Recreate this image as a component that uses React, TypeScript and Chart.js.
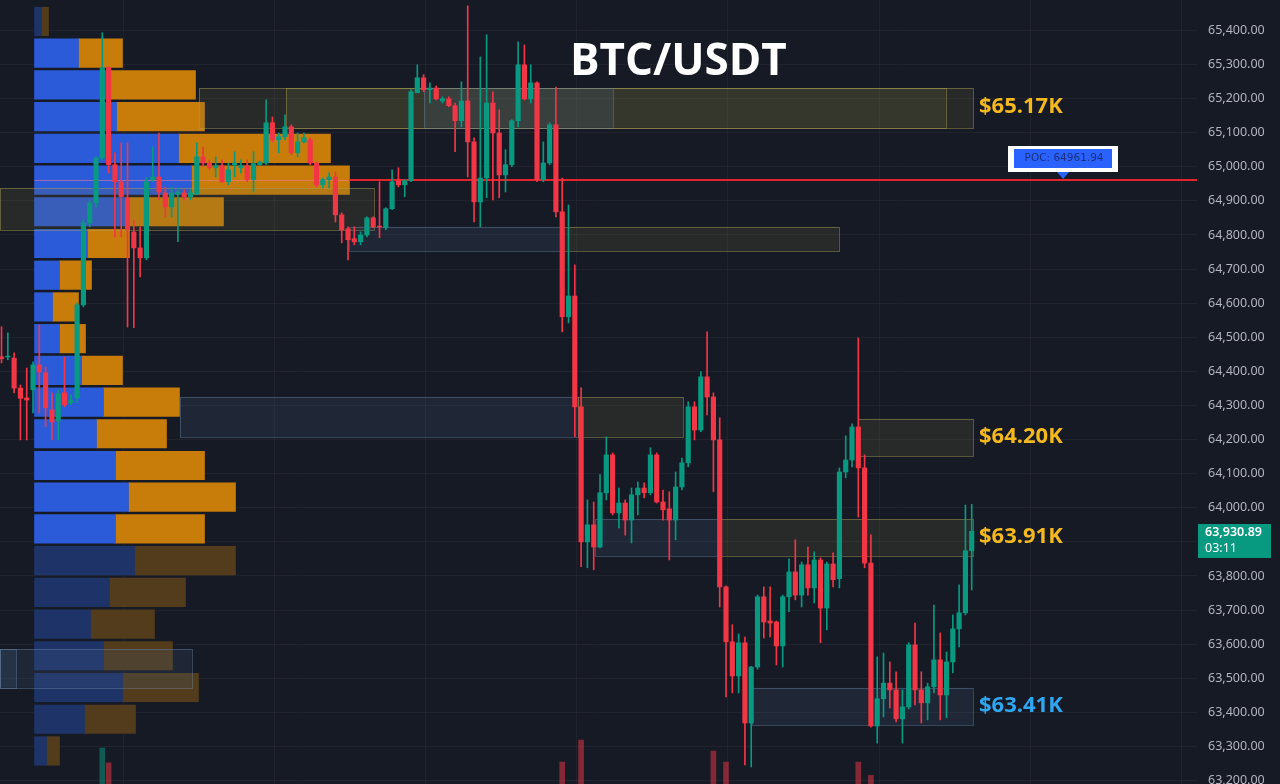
import React, { useEffect, useRef } from "react";
import { Chart, registerables } from "chart.js";

Chart.register(...registerables);

// ---------- candles (5m BTC/USDT) ----------
const opens = [64443,64442,64439,64351,64322,64346,64419,64396,64287,64255,
 64337,64308,64322,64595,64835,64894,65026,65290,65006,64956,
 64909,64809,64762,64733,64962,64970,64923,64882,64920,64923,
 64912,64920,65029,65011,64997,65003,64956,65006,64997,65003,
 64962,65006,65011,65129,65079,65088,65117,65041,65073,65079,
 65011,64947,64962,64970,64859,64818,64789,64780,64800,64850,
 64826,64821,64877,64959,64947,64959,65217,65261,65226,65231,
 65193,65199,65179,65135,65193,65073,64897,64967,65187,65099,
 64976,65006,65135,65299,65199,65246,64962,65011,65123,64868,
 64560,64621,64296,63900,63950,63885,64044,64155,63985,64014,
 63964,64038,64058,64044,64155,64017,63997,63964,64061,64132,
 64296,64228,64384,64325,64199,63768,63607,63507,63604,63369,
 63533,63739,63668,63665,63595,63739,63812,63744,63833,63765,
 63847,63706,63835,63792,64105,64140,64237,64117,63838,63360,
 63440,63486,63466,63381,63416,63598,63466,63428,63475,63554,
 63451,63548,63645,63692,63874];
const highs = [64531,64513,64454,64360,64410,64428,64536,64413,64337,64346,
 64442,64331,64601,64844,64903,65029,65393,65293,65041,65070,
 65070,64844,64824,64968,65058,65099,64941,64941,64938,64932,
 64932,65070,65058,65020,65029,65020,65011,65044,65020,65020,
 65044,65017,65196,65146,65099,65152,65123,65099,65099,65085,
 65014,64967,64982,64985,64865,64824,64824,64809,64853,64853,
 64956,64880,64991,64997,64962,65226,65299,65270,65246,65237,
 65205,65205,65187,65249,65472,65085,65322,65387,65220,65167,
 65050,65138,65366,65357,65299,65249,65073,65129,65234,64967,
 64888,64712,64352,64023,64017,64097,64208,64161,64058,64023,
 64058,64076,64073,64176,64161,64052,64047,64105,64146,64311,
 64311,64399,64516,64337,64264,63771,63657,63630,63621,63535,
 63744,63768,63768,63668,63744,63850,63906,63841,63885,63871,
 63853,63841,63868,64117,64211,64246,64498,64155,63921,63563,
 63574,63548,63519,63466,63604,63662,63519,63486,63715,63633,
 63577,63686,63774,64008,64010];
const lows = [64425,64434,64337,64199,64199,64278,64278,64237,64199,64199,
 64296,64302,64308,64589,64824,64882,65020,64982,64794,64794,
 64530,64528,64677,64727,64956,64903,64853,64853,64780,64903,
 64903,64918,65000,64991,64970,64953,64947,64970,64982,64956,
 64926,65003,65006,65073,65041,65079,65035,65029,65070,65006,
 64941,64938,64938,64838,64777,64727,64771,64771,64794,64821,
 64792,64815,64874,64941,64912,64956,65217,65220,65187,65196,
 65187,65176,65044,65117,64970,64838,64824,64909,64903,64909,
 64926,65000,65117,65196,65187,64956,64956,65006,64853,64516,
 64542,64208,63827,63824,63818,63882,64023,63979,63941,63920,
 63897,63979,64029,64038,64014,63964,63847,63906,64052,64120,
 64199,64223,64272,64047,63709,63445,63457,63457,63246,63240,
 63527,63618,63621,63539,63533,63695,63730,63709,63744,63721,
 63604,63642,63768,63765,64088,64120,63973,63824,63357,63310,
 63387,63413,63372,63310,63410,63422,63369,63378,63457,63378,
 63384,63516,63592,63686,63759];
const closes = [64437,64445,64351,64321,64316,64419,64398,64293,64252,64334,
 64302,64316,64595,64835,64894,65026,65290,65006,64956,64912,
 64815,64762,64733,64956,64970,64926,64882,64923,64926,64912,
 64923,65029,65011,64997,65003,64956,64991,65011,65003,64962,
 65009,65014,65129,65079,65088,65117,65041,65073,65085,65011,
 64947,64962,64970,64859,64815,64786,64780,64800,64850,64824,
 64823,64877,64956,64947,64959,65220,65261,65226,65231,65199,
 65199,65179,65135,65193,65073,64897,64967,65187,65099,64976,
 65006,65135,65299,65199,65246,64962,65011,65123,64868,64560,
 64621,64296,63900,63950,63885,64044,64155,63985,64014,63964,
 64038,64058,64044,64155,64017,63994,63964,64061,64132,64296,
 64228,64384,64325,64199,63768,63607,63507,63604,63369,63533,
 63739,63665,63662,63595,63739,63812,63744,63833,63765,63847,
 63706,63835,63789,64105,64140,64237,64117,63838,63360,63440,
 63486,63466,63381,63416,63598,63466,63428,63475,63554,63451,
 63548,63645,63692,63874,63930.89];

// ---------- volume histogram (only the bars that reach into view) ----------
const volumeCandle = [16, 17, 89, 92, 113, 115, 136, 138];
const volumeValue = [46, 27, 28, 56, 42, 28, 28, 11];

// ---------- volume profile ----------
const profilePrices = [65426,65333,65240,65147,65054,64961,64868,64775,64682,64589,
 64496,64403,64310,64217,64124,64031,63938,63845,63752,63659,63566,63473,63380,63287];
const profileBuy = [7,44,76,82,144,157,95,53,25,18,25,47,69,62,81,94,81,100,75,56,69,88,50,12];
const profileSell = [7,44,85,88,152,158,94,42,32,26,26,41,76,70,89,107,89,101,76,64,69,76,51,13];
const valueAreaHigh = 65380;
const valueAreaLow = 63890;
const pocPrice = 64961.94;

// ---------- zones ----------
const zoneStart = [31.35, 45.2, 67.1, -0.3, 55.2, 89.1, 28.3, 91.5, 136.0, 94.2, 114.0, 119.1, -0.3, -0.3];
const zoneEnd = [154.2, 149.9, 97.1, 59.1, 89.1, 132.9, 91.5, 108.2, 154.2, 114.0, 154.2, 154.2, 30.2, 2.3];
const zoneTop = [65231, 65231, 65231, 64938, 64824, 64824, 64325, 64325, 64261, 63967, 63967, 63472, 63586, 63586];
const zoneBottom = [65114, 65114, 65114, 64815, 64753, 64753, 64208, 64208, 64152, 63859, 63859, 63363, 63472, 63472];
const zoneKind = ["s", "s", "d", "s", "d", "s", "d", "s", "s", "d", "s", "d", "d", "d"];

const labelZone = [0, 8, 10, 11];
const labelText = ["$65.17K", "$64.20K", "$63.91K", "$63.41K"];
const labelColor = ["#f5b91e", "#f5b91e", "#f5b91e", "#2ea6f2"];

const priceTicks = [63200, 63300, 63400, 63500, 63600, 63700, 63800, 63900, 64000, 64100, 64200, 64300,
 64400, 64500, 64600, 64700, 64800, 64900, 65000, 65100, 65200, 65300, 65400, 65500];
const gridTimes = [19.3, 43.3, 67.3, 91.3, 115.3, 139.3, 163.3, 187.3];
const pocLabelTime = 168.5;
const countdown = "03:11";
const title = "BTC/USDT";

const priceMin = 63190;
const priceMax = 65489;
const timeMin = -0.24;
const timeMax = 189.76;

const BG = "#161a25";
const GRID = "rgba(255,255,255,0.045)";
const GREEN = "#089981";
const RED = "#f23645";

const fmt = (v: number) =>
  v.toLocaleString("en-US", { minimumFractionDigits: 2, maximumFractionDigits: 2 });

const overlayPlugin = {
  id: "overlay",
  beforeDraw(chart: any) {
    const { ctx, width, height } = chart;
    ctx.save();
    ctx.fillStyle = BG;
    ctx.fillRect(0, 0, width, height);
    ctx.restore();
  },
  beforeDatasetDraw(chart: any, args: any) {
    if (args.index !== 2) return;
    const { ctx, chartArea } = chart;
    const xs = chart.scales.x, ys = chart.scales.y, xp = chart.scales.xp;
    ctx.save();
    for (let z = 0; z < zoneStart.length; z++) {
      const x1 = xs.getPixelForValue(zoneStart[z]);
      const x2 = xs.getPixelForValue(zoneEnd[z]);
      const y1 = ys.getPixelForValue(zoneTop[z]);
      const y2 = ys.getPixelForValue(zoneBottom[z]);
      const supply = zoneKind[z] === "s";
      ctx.fillStyle = supply ? "rgba(110,108,60,0.2)" : "rgba(70,95,130,0.2)";
      ctx.fillRect(x1, y1, x2 - x1, y2 - y1);
      ctx.strokeStyle = supply ? "rgba(175,165,85,0.45)" : "rgba(110,140,170,0.4)";
      ctx.lineWidth = 1;
      ctx.strokeRect(Math.round(x1) + 0.5, Math.round(y1) + 0.5, Math.round(x2 - x1), Math.round(y2 - y1));
    }
    // POC line
    let maxK = 0;
    for (let k = 0; k < profilePrices.length; k++) {
      if (profileBuy[k] + profileSell[k] > profileBuy[maxK] + profileSell[maxK]) maxK = k;
    }
    const py = Math.round(ys.getPixelForValue(pocPrice));
    const px0 = xp.getPixelForValue(0);
    const px1 = xp.getPixelForValue(profileBuy[maxK] + profileSell[maxK]);
    ctx.strokeStyle = "rgba(255,120,150,0.55)";
    ctx.lineWidth = 1;
    ctx.beginPath();
    ctx.moveTo(px0, py + 0.5);
    ctx.lineTo(px1, py + 0.5);
    ctx.stroke();
    ctx.strokeStyle = "#e3242b";
    ctx.lineWidth = 2;
    ctx.beginPath();
    ctx.moveTo(px1, py);
    ctx.lineTo(chartArea.right, py);
    ctx.stroke();
    ctx.restore();
  },
  afterDatasetsDraw(chart: any) {
    const { ctx, chartArea, width } = chart;
    const xs = chart.scales.x, ys = chart.scales.y;
    ctx.save();
    // price axis labels
    ctx.textBaseline = "middle";
    ctx.textAlign = "left";
    ctx.fillStyle = "#b2b5be";
    ctx.font = '12.5px "Noto Sans"';
    for (const t of ys.ticks) {
      const y = ys.getPixelForValue(t.value);
      ctx.fillText(fmt(t.value), chartArea.right + 11, y);
    }
    // zone labels
    ctx.font = 'bold 22px "Open Sans"';
    for (let l = 0; l < labelZone.length; l++) {
      const z = labelZone[l];
      const x = xs.getPixelForValue(zoneEnd[z]) + 6;
      const y = ys.getPixelForValue((zoneTop[z] + zoneBottom[z]) / 2) - 1;
      ctx.fillStyle = labelColor[l];
      ctx.fillText(labelText[l], x, y);
    }
    // POC label
    const cx = xs.getPixelForValue(pocLabelTime);
    const py = ys.getPixelForValue(pocPrice);
    const bw = 110, bh = 26;
    const bx = Math.round(cx - bw / 2), by = Math.round(py - 34);
    ctx.fillStyle = "#ffffff";
    ctx.fillRect(bx, by, bw, bh);
    ctx.fillStyle = "#2962ff";
    ctx.fillRect(bx + 6, by + 3, bw - 12, bh - 7);
    ctx.beginPath();
    ctx.moveTo(cx - 6, by + bh);
    ctx.lineTo(cx + 6, by + bh);
    ctx.lineTo(cx, by + bh + 7);
    ctx.closePath();
    ctx.fill();
    ctx.fillStyle = "rgba(25,45,120,0.95)";
    ctx.font = '10.5px "DejaVu Sans"';
    ctx.textAlign = "center";
    ctx.fillText("POC: " + pocPrice.toFixed(2), cx + 1, by + 12.5);
    // title
    ctx.fillStyle = "#ffffff";
    ctx.font = 'bold 44px "Open Sans"';
    ctx.textAlign = "center";
    ctx.fillText(title, width * 0.53, 62);
    // last price box
    const last = closes[closes.length - 1];
    const ly = ys.getPixelForValue(last);
    ctx.fillStyle = GREEN;
    ctx.fillRect(chartArea.right + 1, Math.round(ly - 7.5), 73, 34);
    ctx.fillStyle = "#ffffff";
    ctx.textAlign = "left";
    ctx.font = '600 12.5px "Noto Sans"';
    ctx.fillText(fmt(last), chartArea.right + 8, ly + 1.5);
    ctx.font = '12.5px "Noto Sans"';
    ctx.fillText(countdown, chartArea.right + 8, ly + 17.5);
    ctx.restore();
  },
};

export default function App() {
  const ref = useRef<HTMLCanvasElement>(null);
  useEffect(() => {
    const canvas = ref.current as HTMLCanvasElement;
    const up = closes.map((c, i) => c >= opens[i]);
    const candleColor = up.map((u) => (u ? GREEN : RED));
    const inVA = (p: number) => p <= valueAreaHigh && p >= valueAreaLow;
    const chart = new Chart(canvas, {
      type: "bar",
      data: {
        datasets: [
          {
            type: "bar",
            indexAxis: "y",
            xAxisID: "xp",
            yAxisID: "y",
            data: profilePrices.map((p, k) => ({ y: p, x: [0, profileBuy[k]] })),
            backgroundColor: profilePrices.map((p) => (inVA(p) ? "#2b5bd9" : "#1e3469")),
            barThickness: 28.5,
            grouped: false,
            order: 10,
          },
          {
            type: "bar",
            indexAxis: "y",
            xAxisID: "xp",
            yAxisID: "y",
            data: profilePrices.map((p, k) => ({ y: p, x: [profileBuy[k], profileBuy[k] + profileSell[k]] })),
            backgroundColor: profilePrices.map((p) => (inVA(p) ? "#c87d0a" : "#523c1c")),
            barThickness: 28.5,
            grouped: false,
            order: 10,
          },
          {
            type: "bar",
            xAxisID: "x",
            yAxisID: "yv",
            data: volumeCandle.map((i, k) => ({ x: i, y: volumeValue[k] })),
            backgroundColor: volumeCandle.map((i) => (up[i] ? "rgba(8,153,129,0.5)" : "rgba(242,54,69,0.5)")),
            barThickness: 5,
            grouped: false,
            order: 3,
          },
          {
            type: "bar",
            xAxisID: "x",
            yAxisID: "y",
            data: opens.map((_, i) => ({ x: i, y: [lows[i], highs[i]] })),
            backgroundColor: candleColor,
            barThickness: 1,
            grouped: false,
            order: 2,
          },
          {
            type: "bar",
            xAxisID: "x",
            yAxisID: "y",
            data: opens.map((o, i) => ({ x: i, y: [o, closes[i]] })),
            backgroundColor: candleColor,
            barThickness: 4.5,
            minBarLength: 1,
            grouped: false,
            order: 1,
          },
        ] as any,
      },
      options: {
        animation: false,
        responsive: false,
        events: [],
        layout: { padding: 0, autoPadding: false },
        plugins: {
          legend: { display: false },
          tooltip: { enabled: false },
          title: { display: false },
        },
        scales: {
          x: {
            type: "linear",
            axis: "x",
            position: "bottom",
            min: timeMin,
            max: timeMax,
            offset: false,
            afterBuildTicks: (s: any) => {
              s.ticks = gridTimes.map((v) => ({ value: v }));
            },
            ticks: { display: false },
            grid: { color: GRID, drawTicks: false, offset: false },
            border: { display: false },
          },
          y: {
            type: "linear",
            position: "right",
            min: priceMin,
            max: priceMax,
            offset: false,
            afterBuildTicks: (s: any) => {
              s.ticks = priceTicks.filter((v) => v >= priceMin && v <= priceMax).map((v) => ({ value: v }));
            },
            afterFit: (s: any) => {
              s.width = 83;
            },
            ticks: { display: false },
            grid: { color: GRID, drawTicks: false, offset: false },
            border: { display: false },
          },
          xp: { type: "linear", axis: "x", display: false, min: -34.5, max: 1162.5, offset: false },
          yv: { type: "linear", axis: "y", display: false, min: 0, max: 1000, offset: false },
        } as any,
      },
      plugins: [overlayPlugin],
    } as any);
    return () => chart.destroy();
  }, []);
  return (
    <div style={{ position: "fixed", left: 0, top: 0, width: 1280, height: 784, background: BG }}>
      <canvas ref={ref} width={1280} height={784} style={{ display: "block" }} />
    </div>
  );
}
